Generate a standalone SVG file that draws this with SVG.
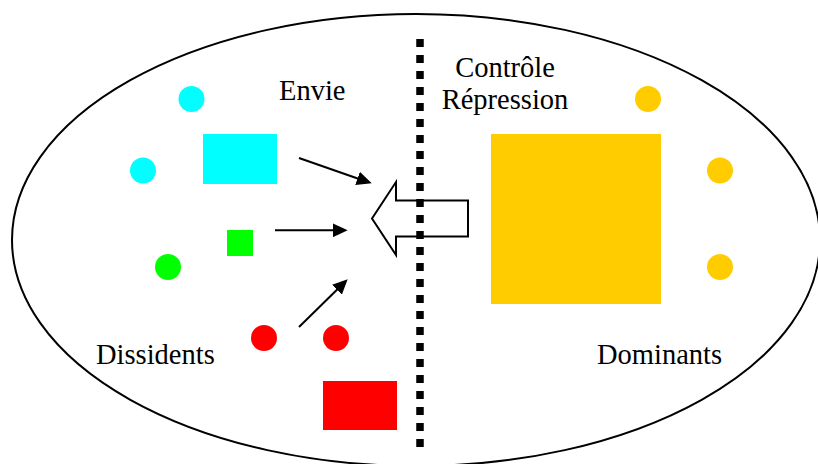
<svg xmlns="http://www.w3.org/2000/svg" width="818" height="464" viewBox="0 0 818 464">
  <defs>
    <marker id="head" viewBox="0 0 15 14" refX="10" refY="7" markerWidth="15" markerHeight="14" markerUnits="userSpaceOnUse" orient="auto">
      <path d="M0,0 L15,7 L0,14 z" fill="#000"/>
    </marker>
    <style>
      .cyan { fill: #00FFFF; }
      .green { fill: #00FF00; }
      .red { fill: #FF0000; }
      .gold { fill: #FFCC00; }
      .conn { stroke: #000; stroke-width: 2; fill: none; marker-end: url(#head); }
      text { font-family: 'Liberation Serif', 'DejaVu Serif', serif; font-size: 28.5px; fill: #000; }
    </style>
  </defs>
  <rect width="818" height="464" fill="#fff"/>
  <g id="boundary">
    <ellipse cx="416" cy="240" rx="404" ry="226" fill="none" stroke="#000" stroke-width="2"/>
  </g>
  <g id="dissidents">
    <circle class="cyan" cx="191.5" cy="99" r="13"/>
    <circle class="cyan" cx="143" cy="170.5" r="13"/>
    <rect class="cyan" x="203" y="134" width="74" height="50"/>
    <rect class="green" x="227" y="230" width="26" height="26"/>
    <circle class="green" cx="168" cy="267" r="13"/>
    <circle class="red" cx="264" cy="338" r="13"/>
    <circle class="red" cx="336" cy="338" r="13"/>
    <rect class="red" x="323" y="381" width="74" height="49"/>
    <text x="96" y="364">Dissidents</text>
  </g>
  <g id="envie">
    <text x="279" y="100">Envie</text>
  </g>
  <g id="dominants">
    <rect class="gold" x="491" y="134" width="170" height="170"/>
    <circle class="gold" cx="648" cy="99" r="13"/>
    <circle class="gold" cx="720" cy="170.5" r="13"/>
    <circle class="gold" cx="720" cy="267" r="13"/>
    <text x="597" y="364">Dominants</text>
  </g>
  <g id="controle">
    <text x="505" y="77" text-anchor="middle">Contrôle</text>
    <text x="505" y="108.5" text-anchor="middle">Répression</text>
  </g>
  <g id="connectors">
    <line class="conn" x1="299" y1="158" x2="367" y2="181.7"/>
    <line class="conn" x1="275" y1="230.3" x2="342.7" y2="230.3"/>
    <line class="conn" x1="299" y1="327" x2="344.1" y2="282.8"/>
    <polygon id="repression-arrow" points="372,218.5 396,182 396,200.5 468,200.5 468,236.5 396,236.5 396,255" fill="#fff" stroke="#000" stroke-width="2" stroke-linejoin="miter"/>
  </g>
  <g id="frontier">
    <line x1="420" y1="39" x2="420" y2="447" stroke="#000" stroke-width="7.5" stroke-dasharray="8 8"/>
  </g>
</svg>
